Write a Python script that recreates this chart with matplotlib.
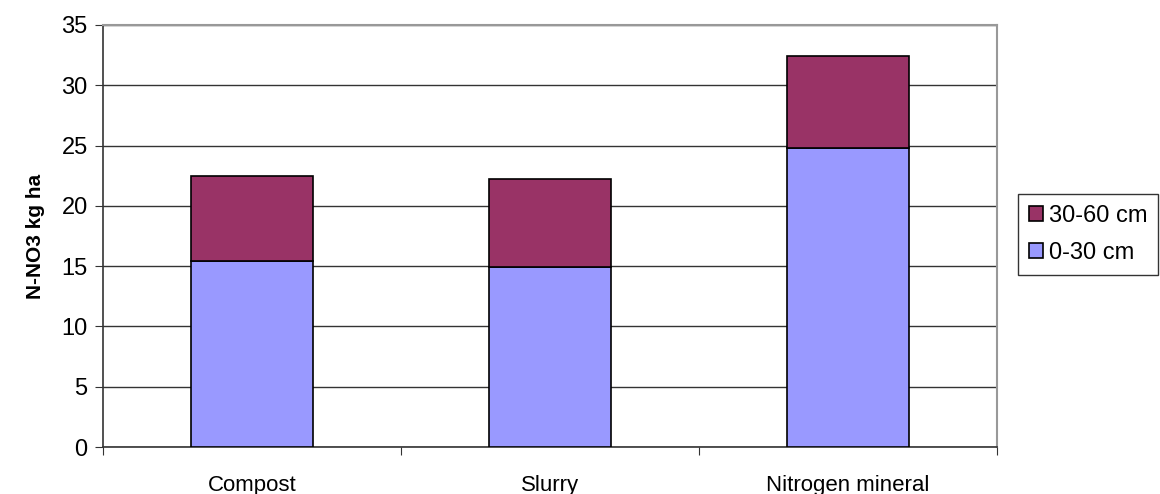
import matplotlib.pyplot as plt
import numpy as np

# N-NO3 par profondeur de sol
categories = ["Compost", "Slurry", "Nitrogen mineral"]
depth_0_30 = [15.4, 14.9, 24.8]
depth_30_60 = [7.1, 7.3, 7.6]
y_ticks = [0, 5, 10, 15, 20, 25, 30, 35]

plt.rcParams['font.family'] = ['Liberation Sans', 'DejaVu Sans']

fig = plt.figure(figsize=(11.6, 4.94), dpi=100)
ax = fig.add_axes([0.0888, 0.0951, 0.7707, 0.8543])

x = np.arange(len(categories))
ax.bar(x, depth_0_30, width=0.41, color='#9999FF', edgecolor='black', linewidth=1.2,
       label='0-30 cm', zorder=3)
ax.bar(x, depth_30_60, width=0.41, bottom=depth_0_30, color='#993366', edgecolor='black',
       linewidth=1.2, label='30-60 cm', zorder=3)

ax.set_xlim(-0.5, len(categories) - 0.5)
ax.set_ylim(0, 35)
ax.set_yticks(y_ticks)
ax.yaxis.grid(True, color='#333333', linewidth=1.0, zorder=0)
ax.set_axisbelow(True)

# ticks x entre les categories, labels au centre
ax.set_xticks(np.arange(len(categories) + 1) - 0.5)
ax.set_xticklabels([])
ax.set_xticks(x, minor=True)
ax.set_xticklabels(categories, minor=True)
ax.tick_params(axis='x', which='minor', length=0, pad=20, labelsize=16)
ax.tick_params(axis='x', which='major', length=6, direction='out', color='#333333')
ax.tick_params(axis='y', length=6, direction='out', labelsize=17, pad=5, color='#333333')

for side in ['top', 'right']:
    ax.spines[side].set_color('#999999')
    ax.spines[side].set_linewidth(1.5)
for side in ['left', 'bottom']:
    ax.spines[side].set_color('#333333')
    ax.spines[side].set_linewidth(1.2)

ax.set_ylabel('N-NO3 kg ha', fontsize=15, fontweight='bold', labelpad=12)

handles, labels = ax.get_legend_handles_labels()
leg = fig.legend(handles[::-1], labels[::-1], loc='upper left', bbox_to_anchor=(0.8776, 0.6073),
                 fontsize=17, frameon=True, fancybox=False, edgecolor='black',
                 handlelength=0.6, handleheight=0.6, handletextpad=0.25, borderpad=0.45,
                 labelspacing=0.65, borderaxespad=0)
leg.get_frame().set_linewidth(1.0)

plt.savefig('out.png', dpi=100)
